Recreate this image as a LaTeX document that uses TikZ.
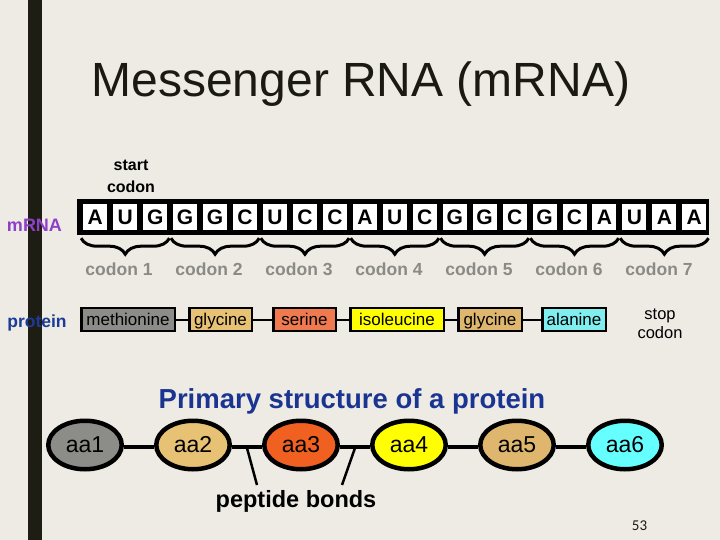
\documentclass[tikz,border=0pt]{standalone}
\usepackage{fontspec}
\setmainfont{Liberation Sans}
\newfontfamily\numfont{Carlito}
\usetikzlibrary{shapes.geometric,decorations.pathreplacing,calc}
\definecolor{bg}{RGB}{238,235,228}
\definecolor{barcol}{RGB}{30,29,20}
\definecolor{titlecol}{RGB}{26,26,16}
\definecolor{purplelbl}{RGB}{140,64,200}
\definecolor{bluelbl}{RGB}{28,58,150}
\definecolor{primblue}{RGB}{26,53,145}
\definecolor{codongray}{RGB}{138,138,134}
\definecolor{cgray}{RGB}{140,140,136}
\definecolor{cgly}{RGB}{232,194,116}
\definecolor{cser}{RGB}{240,122,80}
\definecolor{cile}{RGB}{255,255,0}
\definecolor{cgly2}{RGB}{222,182,110}
\definecolor{cala}{RGB}{128,238,238}
\definecolor{caa3}{RGB}{240,96,32}
\definecolor{caa6}{RGB}{102,255,255}
\begin{document}
\begin{tikzpicture}[x=1pt,y=-1pt,
  letterbox/.style={fill=white,minimum width=24,minimum height=26,inner sep=0,
    font=\fontsize{21}{25}\bfseries\selectfont},
  bracestyle/.style={decorate,decoration={brace,mirror,amplitude=16pt},line width=3pt},
  codonlbl/.style={text=codongray,font=\fontsize{17.5}{21}\bfseries\selectfont,inner sep=0},
  protbox/.style={draw,line width=2.5pt,minimum height=23,inner sep=0,
    text height=13,text depth=2,font=\fontsize{17}{20}\selectfont},
  protlink/.style={line width=2pt},
  aa/.style={ellipse,draw,line width=4.5pt,minimum width=73.5,minimum height=48.5,inner sep=0,
    font=\fontsize{23}{27}\selectfont},
  aalink/.style={line width=4.5pt},
  ptr/.style={line width=2.5pt}]
\fill[bg] (0,0) rectangle (720,540);
\useasboundingbox (0,0) rectangle (720,540);
\fill[barcol] (28,0) rectangle (42,540);
% title
\node[anchor=base,text=titlecol,inner sep=0,font=\fontsize{48}{56}\selectfont] (title) at (361,97) {Messenger RNA (mRNA)};
% start codon
\node[align=center,inner sep=0,font=\fontsize{16}{22}\bfseries\selectfont] (start) at (131,176) {start\\codon};
% mRNA label
\node[anchor=base,inner sep=0,text=purplelbl,font=\fontsize{18}{21}\bfseries\selectfont] (mrnalbl) at (34.5,231) {mRNA};
% strand
\node[fill=black,minimum width=632,minimum height=36,inner sep=0] (strand) at (393,217) {};
\foreach \l [count=\i from 0] in {A,U,G,G,G,C,U,C,C,A,U,C,G,G,C,G,C,A,U,A,A}
  \node[letterbox] (L\i) at (95.3+29.95*\i,217.5) {\l};
\foreach \k in {0,...,6} {
  \pgfmathtruncatemacro\a{3*\k}
  \pgfmathtruncatemacro\b{3*\k+2}
  \pgfmathtruncatemacro\n{\k+1}
  \draw[bracestyle] ([xshift=-2pt,yshift=-7.5pt]L\a.south west) -- ([xshift=2pt,yshift=-7.5pt]L\b.south east);
  \node[codonlbl,anchor=base] (c\n) at (119+90*\k,275) {codon \n};
}
% protein row
\node[anchor=base,inner sep=0,text=bluelbl,font=\fontsize{17.5}{21}\bfseries\selectfont] (protlbl) at (37,327) {protein};
\node[protbox,fill=cgray,minimum width=93.5] (p1) at (128,319.5) {methionine};
\node[protbox,fill=cgly,minimum width=62.5] (p2) at (220.5,319.5) {glycine};
\node[protbox,fill=cser,minimum width=62.5] (p3) at (304.5,319.5) {serine};
\node[protbox,fill=cile,minimum width=93.5] (p4) at (397,319.5) {isoleucine};
\node[protbox,fill=cgly2,minimum width=63.5] (p5) at (490,319.5) {glycine};
\node[protbox,fill=cala,minimum width=63.5] (p6) at (574,319.5) {alanine};
\foreach \i/\j in {1/2,2/3,3/4,4/5,5/6}
  \draw[protlink] (p\i.east) -- (p\j.west);
\node[align=center,inner sep=0,font=\fontsize{16.5}{19}\selectfont] (stop) at (660,324) {stop\\codon};
% primary structure
\node[anchor=base,inner sep=0,text=primblue,font=\fontsize{27.5}{32}\bfseries\selectfont] (prim) at (352,408) {Primary structure of a protein};
\node[aa,fill=cgray] (a1) at (85,445) {aa1};
\node[aa,fill=cgly] (a2) at (193,445) {aa2};
\node[aa,fill=caa3] (a3) at (301,445) {aa3};
\node[aa,fill=cile] (a4) at (409,445) {aa4};
\node[aa,fill=cgly2] (a5) at (517,445) {aa5};
\node[aa,fill=caa6] (a6) at (625,445) {aa6};
\foreach \i/\j in {1/2,2/3,3/4,4/5,5/6}
  \draw[aalink] ([yshift=-2pt]a\i.east) -- ([yshift=-2pt]a\j.west);
\coordinate (b23) at ($([yshift=-3pt]a2.east)!0.5!([yshift=-3pt]a3.west)$);
\coordinate (b34) at ($([yshift=-3pt]a3.east)!0.5!([yshift=-3pt]a4.west)$);
\node[anchor=base,inner sep=0,font=\fontsize{23.5}{28}\bfseries\selectfont] (pep) at (296,507) {peptide bonds};
\coordinate (e1) at (257,485);
\coordinate (e2) at (342,485);
\draw[ptr] (b23) -- (e1);
\draw[ptr] (b34) -- (e2);
\node[anchor=base,inner sep=0,text=titlecol,font=\numfont\fontsize{15}{18}\selectfont] (pg) at (639.5,530) {53};
\end{tikzpicture}
\end{document}
